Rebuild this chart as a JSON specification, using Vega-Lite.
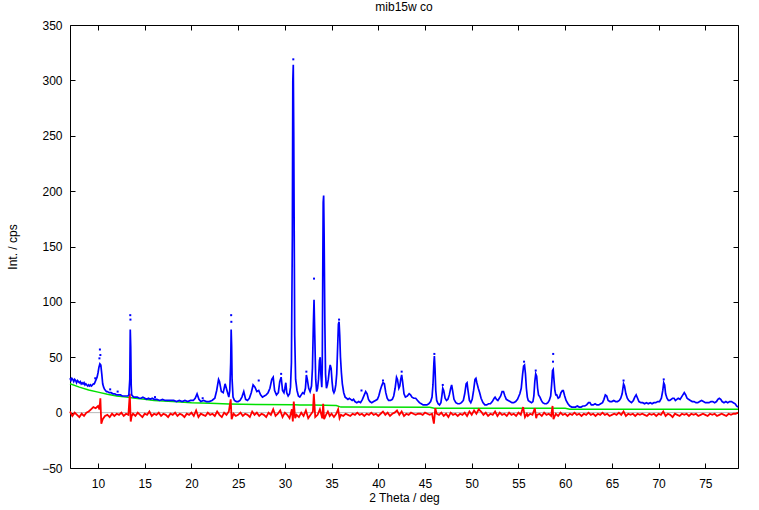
{
"$schema":"https://vega.github.io/schema/vega-lite/v6.json",
"width":668,"height":443,
"autosize":{"type":"none"},
"padding":{"left":70,"top":25,"right":21,"bottom":42},
"background":"white",
"title":{"text":"mib15w co","fontSize":12,"fontWeight":"normal","font":"Liberation Sans Narrow, Liberation Sans, Arial","color":"black","offset":5},
"config":{
 "view":{"stroke":"black","strokeWidth":1},
 "axis":{"grid":false,"domainColor":"black","tickColor":"black","labelColor":"black","titleColor":"black","labelFont":"Liberation Sans Narrow, Liberation Sans, Arial","titleFont":"Liberation Sans Narrow, Liberation Sans, Arial","labelFontSize":12,"titleFontSize":12,"titleFontWeight":"normal","tickSize":-5,"domain":false}
},
"datasets":{
"bg":[{"x":7,"y":26},{"x":8,"y":23},{"x":9,"y":20.5},{"x":10,"y":18.5},{"x":11,"y":16.5},{"x":12,"y":15},{"x":13,"y":14},{"x":14,"y":13},{"x":15,"y":12},{"x":16,"y":11},{"x":17,"y":10.5},{"x":18,"y":10},{"x":20,"y":9},{"x":22,"y":8.5},{"x":24,"y":7.8},{"x":27,"y":7.3},{"x":31,"y":7},{"x":31.6,"y":6.9},{"x":33,"y":6.8},{"x":35.5,"y":6.5},{"x":36,"y":5},{"x":45.5,"y":4.8},{"x":46,"y":4},{"x":60,"y":3.9},{"x":60.5,"y":3},{"x":78.5,"y":3}],
"zero":[{"x":7,"y":0},{"x":78.5,"y":0}],
"obs":[{"x":7.0,"y":31},{"x":7.1,"y":29},{"x":7.2,"y":31},{"x":7.3,"y":30},{"x":7.4,"y":28},{"x":7.5,"y":30},{"x":7.6,"y":29},{"x":7.7,"y":27},{"x":7.8,"y":29},{"x":7.9,"y":28},{"x":8.0,"y":27},{"x":8.1,"y":28},{"x":8.2,"y":26},{"x":8.3,"y":27},{"x":8.4,"y":26},{"x":8.5,"y":27},{"x":8.6,"y":25},{"x":8.7,"y":26},{"x":8.8,"y":25},{"x":8.9,"y":24},{"x":9.0,"y":25},{"x":9.1,"y":24},{"x":9.2,"y":25},{"x":9.3,"y":24},{"x":9.4,"y":25},{"x":9.5,"y":26},{"x":9.6,"y":26},{"x":9.7,"y":28},{"x":9.8,"y":30},{"x":9.9,"y":32},{"x":10.0,"y":36},{"x":10.1,"y":41},{"x":10.2,"y":44},{"x":10.3,"y":43},{"x":10.4,"y":35},{"x":10.5,"y":26},{"x":10.6,"y":23},{"x":10.7,"y":21},{"x":10.8,"y":20},{"x":10.9,"y":19},{"x":11.0,"y":19},{"x":11.2,"y":18},{"x":11.4,"y":18},{"x":11.6,"y":17},{"x":11.8,"y":17},{"x":12.0,"y":16},{"x":12.2,"y":16},{"x":12.4,"y":16},{"x":12.6,"y":15},{"x":12.8,"y":15},{"x":13.0,"y":15},{"x":13.2,"y":15},{"x":13.3,"y":16},{"x":13.4,"y":30},{"x":13.45,"y":75},{"x":13.5,"y":60},{"x":13.55,"y":25},{"x":13.6,"y":16},{"x":13.8,"y":14},{"x":14.0,"y":14},{"x":14.2,"y":14},{"x":14.4,"y":13},{"x":14.6,"y":13},{"x":14.8,"y":14},{"x":15.0,"y":13},{"x":15.2,"y":12},{"x":15.4,"y":13},{"x":15.6,"y":12},{"x":15.8,"y":13},{"x":16.0,"y":12},{"x":16.3,"y":12},{"x":16.6,"y":11},{"x":16.9,"y":12},{"x":17.2,"y":11},{"x":17.5,"y":11},{"x":17.8,"y":11},{"x":18.1,"y":11},{"x":18.4,"y":10},{"x":18.7,"y":11},{"x":19.0,"y":10},{"x":19.3,"y":11},{"x":19.6,"y":10},{"x":19.9,"y":11},{"x":20.2,"y":11},{"x":20.4,"y":13},{"x":20.6,"y":17},{"x":20.8,"y":12},{"x":21.0,"y":10},{"x":21.3,"y":11},{"x":21.6,"y":10},{"x":21.9,"y":10},{"x":22.2,"y":11},{"x":22.5,"y":13},{"x":22.7,"y":20},{"x":22.9,"y":30},{"x":23.0,"y":28},{"x":23.2,"y":19},{"x":23.4,"y":18},{"x":23.6,"y":26},{"x":23.8,"y":20},{"x":24.0,"y":14},{"x":24.1,"y":20},{"x":24.2,"y":45},{"x":24.25,"y":75},{"x":24.3,"y":60},{"x":24.35,"y":30},{"x":24.45,"y":14},{"x":24.6,"y":11},{"x":24.8,"y":10},{"x":25.0,"y":10},{"x":25.2,"y":11},{"x":25.4,"y":14},{"x":25.6,"y":19},{"x":25.8,"y":12},{"x":26.0,"y":11},{"x":26.2,"y":13},{"x":26.4,"y":18},{"x":26.6,"y":25},{"x":26.8,"y":23},{"x":27.0,"y":19},{"x":27.2,"y":20},{"x":27.4,"y":16},{"x":27.6,"y":14},{"x":27.8,"y":15},{"x":28.0,"y":16},{"x":28.2,"y":18},{"x":28.4,"y":22},{"x":28.6,"y":30},{"x":28.75,"y":32},{"x":28.9,"y":20},{"x":29.1,"y":16},{"x":29.3,"y":18},{"x":29.45,"y":28},{"x":29.6,"y":32},{"x":29.75,"y":20},{"x":29.9,"y":18},{"x":30.0,"y":22},{"x":30.1,"y":27},{"x":30.2,"y":18},{"x":30.35,"y":15},{"x":30.5,"y":17},{"x":30.6,"y":23},{"x":30.7,"y":45},{"x":30.8,"y":160},{"x":30.85,"y":300},{"x":30.9,"y":314},{"x":30.95,"y":250},{"x":31.0,"y":160},{"x":31.05,"y":70},{"x":31.15,"y":30},{"x":31.3,"y":20},{"x":31.45,"y":15},{"x":31.6,"y":14},{"x":31.75,"y":16},{"x":31.9,"y":18},{"x":32.05,"y":17},{"x":32.2,"y":22},{"x":32.3,"y":34},{"x":32.4,"y":30},{"x":32.55,"y":22},{"x":32.7,"y":19},{"x":32.85,"y":24},{"x":32.95,"y":40},{"x":33.05,"y":80},{"x":33.12,"y":102},{"x":33.2,"y":70},{"x":33.3,"y":30},{"x":33.4,"y":19},{"x":33.5,"y":22},{"x":33.6,"y":30},{"x":33.7,"y":47},{"x":33.78,"y":50},{"x":33.85,"y":35},{"x":33.95,"y":23},{"x":34.0,"y":40},{"x":34.05,"y":120},{"x":34.1,"y":190},{"x":34.15,"y":196},{"x":34.2,"y":160},{"x":34.28,"y":80},{"x":34.35,"y":35},{"x":34.45,"y":22},{"x":34.55,"y":25},{"x":34.65,"y":30},{"x":34.75,"y":38},{"x":34.85,"y":43},{"x":34.95,"y":40},{"x":35.05,"y":28},{"x":35.15,"y":20},{"x":35.25,"y":18},{"x":35.35,"y":20},{"x":35.45,"y":25},{"x":35.55,"y":35},{"x":35.65,"y":60},{"x":35.73,"y":80},{"x":35.8,"y":82},{"x":35.87,"y":70},{"x":35.95,"y":50},{"x":36.05,"y":36},{"x":36.15,"y":26},{"x":36.3,"y":18},{"x":36.45,"y":14},{"x":36.6,"y":13},{"x":36.75,"y":12},{"x":36.9,"y":13},{"x":37.05,"y":12},{"x":37.2,"y":11},{"x":37.35,"y":12},{"x":37.5,"y":10},{"x":37.7,"y":9},{"x":37.9,"y":10},{"x":38.1,"y":9},{"x":38.3,"y":12},{"x":38.5,"y":16},{"x":38.65,"y":19},{"x":38.8,"y":17},{"x":38.95,"y":12},{"x":39.1,"y":10},{"x":39.3,"y":9},{"x":39.5,"y":10},{"x":39.7,"y":11},{"x":39.9,"y":12},{"x":40.05,"y":15},{"x":40.2,"y":20},{"x":40.35,"y":24},{"x":40.5,"y":27},{"x":40.65,"y":26},{"x":40.8,"y":18},{"x":40.95,"y":13},{"x":41.1,"y":11},{"x":41.3,"y":11},{"x":41.5,"y":12},{"x":41.65,"y":15},{"x":41.8,"y":22},{"x":41.95,"y":32},{"x":42.05,"y":30},{"x":42.2,"y":22},{"x":42.3,"y":24},{"x":42.4,"y":30},{"x":42.5,"y":34},{"x":42.6,"y":28},{"x":42.75,"y":17},{"x":42.9,"y":14},{"x":43.1,"y":15},{"x":43.3,"y":17},{"x":43.45,"y":16},{"x":43.6,"y":14},{"x":43.8,"y":13},{"x":44.0,"y":13},{"x":44.2,"y":11},{"x":44.4,"y":9},{"x":44.6,"y":8},{"x":44.8,"y":7},{"x":45.0,"y":7},{"x":45.2,"y":7},{"x":45.4,"y":8},{"x":45.6,"y":10},{"x":45.75,"y":14},{"x":45.85,"y":25},{"x":45.95,"y":45},{"x":46.0,"y":51},{"x":46.07,"y":40},{"x":46.15,"y":20},{"x":46.25,"y":11},{"x":46.4,"y":8},{"x":46.55,"y":7},{"x":46.7,"y":9},{"x":46.8,"y":15},{"x":46.9,"y":22},{"x":47.0,"y":20},{"x":47.15,"y":13},{"x":47.3,"y":11},{"x":47.45,"y":12},{"x":47.6,"y":16},{"x":47.75,"y":22},{"x":47.85,"y":25},{"x":47.95,"y":20},{"x":48.1,"y":12},{"x":48.3,"y":9},{"x":48.5,"y":8},{"x":48.7,"y":8},{"x":48.9,"y":9},{"x":49.1,"y":11},{"x":49.25,"y":17},{"x":49.4,"y":26},{"x":49.5,"y":27},{"x":49.6,"y":20},{"x":49.75,"y":11},{"x":49.9,"y":9},{"x":50.05,"y":12},{"x":50.2,"y":20},{"x":50.35,"y":30},{"x":50.45,"y":31},{"x":50.55,"y":27},{"x":50.7,"y":22},{"x":50.85,"y":18},{"x":51.0,"y":13},{"x":51.2,"y":9},{"x":51.4,"y":7},{"x":51.6,"y":7},{"x":51.8,"y":8},{"x":52.0,"y":8},{"x":52.2,"y":10},{"x":52.4,"y":13},{"x":52.5,"y":14},{"x":52.65,"y":12},{"x":52.8,"y":11},{"x":52.95,"y":13},{"x":53.1,"y":15},{"x":53.25,"y":19},{"x":53.4,"y":19},{"x":53.55,"y":15},{"x":53.7,"y":12},{"x":53.9,"y":11},{"x":54.1,"y":10},{"x":54.3,"y":9},{"x":54.5,"y":9},{"x":54.7,"y":10},{"x":54.9,"y":12},{"x":55.05,"y":15},{"x":55.15,"y":17},{"x":55.3,"y":22},{"x":55.45,"y":35},{"x":55.55,"y":42},{"x":55.65,"y":43},{"x":55.75,"y":35},{"x":55.85,"y":22},{"x":55.95,"y":14},{"x":56.05,"y":11},{"x":56.2,"y":10},{"x":56.4,"y":9},{"x":56.55,"y":10},{"x":56.65,"y":15},{"x":56.75,"y":28},{"x":56.85,"y":35},{"x":56.95,"y":33},{"x":57.05,"y":22},{"x":57.15,"y":16},{"x":57.3,"y":14},{"x":57.45,"y":11},{"x":57.6,"y":9},{"x":57.8,"y":8},{"x":58.0,"y":8},{"x":58.15,"y":9},{"x":58.3,"y":11},{"x":58.45,"y":15},{"x":58.55,"y":25},{"x":58.65,"y":38},{"x":58.72,"y":39},{"x":58.8,"y":30},{"x":58.9,"y":20},{"x":59.0,"y":16},{"x":59.1,"y":16},{"x":59.25,"y":13},{"x":59.4,"y":14},{"x":59.55,"y":18},{"x":59.7,"y":20},{"x":59.8,"y":20},{"x":59.95,"y":15},{"x":60.1,"y":11},{"x":60.3,"y":8},{"x":60.5,"y":6},{"x":60.7,"y":5},{"x":60.9,"y":5},{"x":61.1,"y":5},{"x":61.3,"y":6},{"x":61.5,"y":5},{"x":61.7,"y":5},{"x":61.9,"y":6},{"x":62.1,"y":6},{"x":62.3,"y":7},{"x":62.5,"y":9},{"x":62.65,"y":9},{"x":62.8,"y":7},{"x":63.0,"y":7},{"x":63.2,"y":8},{"x":63.4,"y":7},{"x":63.6,"y":7},{"x":63.8,"y":8},{"x":64.0,"y":9},{"x":64.15,"y":12},{"x":64.3,"y":16},{"x":64.45,"y":15},{"x":64.6,"y":11},{"x":64.8,"y":10},{"x":65.0,"y":10},{"x":65.2,"y":11},{"x":65.4,"y":10},{"x":65.6,"y":10},{"x":65.8,"y":11},{"x":65.95,"y":13},{"x":66.1,"y":17},{"x":66.25,"y":26},{"x":66.35,"y":24},{"x":66.5,"y":17},{"x":66.65,"y":13},{"x":66.8,"y":11},{"x":66.95,"y":10},{"x":67.1,"y":9},{"x":67.3,"y":11},{"x":67.45,"y":14},{"x":67.6,"y":16},{"x":67.75,"y":13},{"x":67.9,"y":10},{"x":68.1,"y":9},{"x":68.3,"y":9},{"x":68.5,"y":8},{"x":68.7,"y":9},{"x":68.9,"y":8},{"x":69.1,"y":9},{"x":69.3,"y":8},{"x":69.5,"y":9},{"x":69.7,"y":9},{"x":69.9,"y":10},{"x":70.1,"y":10},{"x":70.3,"y":13},{"x":70.45,"y":20},{"x":70.55,"y":27},{"x":70.65,"y":25},{"x":70.75,"y":17},{"x":70.9,"y":13},{"x":71.05,"y":11},{"x":71.2,"y":11},{"x":71.35,"y":12},{"x":71.5,"y":13},{"x":71.65,"y":13},{"x":71.8,"y":11},{"x":71.95,"y":12},{"x":72.1,"y":13},{"x":72.3,"y":12},{"x":72.45,"y":14},{"x":72.6,"y":16},{"x":72.75,"y":18},{"x":72.9,"y":16},{"x":73.05,"y":13},{"x":73.2,"y":12},{"x":73.4,"y":11},{"x":73.6,"y":10},{"x":73.8,"y":10},{"x":74.0,"y":9},{"x":74.2,"y":9},{"x":74.4,"y":10},{"x":74.6,"y":11},{"x":74.8,"y":10},{"x":75.0,"y":9},{"x":75.2,"y":9},{"x":75.4,"y":9},{"x":75.6,"y":10},{"x":75.8,"y":10},{"x":76.0,"y":9},{"x":76.2,"y":10},{"x":76.35,"y":12},{"x":76.5,"y":13},{"x":76.65,"y":12},{"x":76.8,"y":10},{"x":77.0,"y":9},{"x":77.2,"y":10},{"x":77.4,"y":9},{"x":77.6,"y":10},{"x":77.8,"y":10},{"x":78.0,"y":9},{"x":78.2,"y":8},{"x":78.35,"y":6},{"x":78.5,"y":5}],
"pts":[{"x":10.2,"y":57},{"x":10.25,"y":52},{"x":10.15,"y":49},{"x":13.45,"y":88},{"x":13.47,"y":84},{"x":24.25,"y":88},{"x":24.27,"y":82},{"x":27.2,"y":29},{"x":30.9,"y":319},{"x":33.12,"y":121},{"x":35.8,"y":84},{"x":38.2,"y":20},{"x":46.0,"y":53},{"x":46.9,"y":25},{"x":58.72,"y":53},{"x":58.7,"y":46},{"x":66.25,"y":29},{"x":70.55,"y":30},{"x":9.7,"y":31},{"x":11.3,"y":21},{"x":12.1,"y":19},{"x":16.1,"y":14},{"x":21.2,"y":13},{"x":29.6,"y":35},{"x":32.3,"y":37},{"x":40.5,"y":29},{"x":42.5,"y":37},{"x":55.6,"y":46},{"x":56.85,"y":38}],
"diff":[{"x":7.0,"y":1},{"x":7.25,"y":-3},{"x":7.5,"y":0},{"x":7.75,"y":-2},{"x":8.0,"y":-4},{"x":8.25,"y":-1},{"x":8.5,"y":-3},{"x":8.75,"y":0},{"x":9.0,"y":1},{"x":9.25,"y":3},{"x":9.5,"y":5},{"x":9.75,"y":4},{"x":10.0,"y":6},{"x":10.15,"y":3},{"x":10.25,"y":13},{"x":10.35,"y":-10},{"x":10.5,"y":-6},{"x":10.75,"y":-3},{"x":11.0,"y":-2},{"x":11.25,"y":-4},{"x":11.5,"y":-1},{"x":11.75,"y":-3},{"x":12.0,"y":-1},{"x":12.25,"y":-2},{"x":12.5,"y":0},{"x":12.75,"y":-3},{"x":13.0,"y":-1},{"x":13.25,"y":-2},{"x":13.4,"y":17},{"x":13.5,"y":-8},{"x":13.6,"y":-3},{"x":13.75,"y":-1},{"x":14.0,"y":-3},{"x":14.25,"y":0},{"x":14.5,"y":-2},{"x":14.75,"y":-4},{"x":15.0,"y":-1},{"x":15.25,"y":-2},{"x":15.5,"y":1},{"x":15.75,"y":-3},{"x":16.0,"y":-1},{"x":16.25,"y":-2},{"x":16.5,"y":0},{"x":16.75,"y":-3},{"x":17.0,"y":-1},{"x":17.25,"y":-2},{"x":17.5,"y":-4},{"x":17.75,"y":-1},{"x":18.0,"y":-2},{"x":18.25,"y":0},{"x":18.5,"y":-3},{"x":18.75,"y":-1},{"x":19.0,"y":-2},{"x":19.25,"y":-4},{"x":19.5,"y":-1},{"x":19.75,"y":-2},{"x":20.0,"y":0},{"x":20.25,"y":-3},{"x":20.5,"y":2},{"x":20.75,"y":-4},{"x":21.0,"y":-1},{"x":21.25,"y":-2},{"x":21.5,"y":-3},{"x":21.75,"y":0},{"x":22.0,"y":-2},{"x":22.25,"y":-1},{"x":22.5,"y":-3},{"x":22.75,"y":1},{"x":23.0,"y":-2},{"x":23.25,"y":-4},{"x":23.5,"y":0},{"x":23.75,"y":-2},{"x":24.0,"y":1},{"x":24.2,"y":12},{"x":24.3,"y":-6},{"x":24.5,"y":-1},{"x":24.75,"y":-3},{"x":25.0,"y":-2},{"x":25.25,"y":0},{"x":25.5,"y":-3},{"x":25.75,"y":-1},{"x":26.0,"y":-2},{"x":26.25,"y":-4},{"x":26.5,"y":1},{"x":26.75,"y":-2},{"x":27.0,"y":0},{"x":27.25,"y":-3},{"x":27.5,"y":-1},{"x":27.75,"y":-2},{"x":28.0,"y":-4},{"x":28.25,"y":0},{"x":28.5,"y":-2},{"x":28.75,"y":3},{"x":29.0,"y":-3},{"x":29.25,"y":-1},{"x":29.5,"y":2},{"x":29.75,"y":-4},{"x":30.0,"y":0},{"x":30.25,"y":-2},{"x":30.5,"y":-5},{"x":30.75,"y":3},{"x":30.85,"y":-8},{"x":30.95,"y":10},{"x":31.1,"y":-5},{"x":31.25,"y":-2},{"x":31.5,"y":-4},{"x":31.75,"y":0},{"x":32.0,"y":-3},{"x":32.25,"y":2},{"x":32.5,"y":-5},{"x":32.75,"y":-2},{"x":33.0,"y":1},{"x":33.1,"y":17},{"x":33.25,"y":-4},{"x":33.5,"y":-2},{"x":33.75,"y":3},{"x":34.0,"y":-5},{"x":34.1,"y":8},{"x":34.2,"y":-6},{"x":34.4,"y":-2},{"x":34.6,"y":1},{"x":34.8,"y":-3},{"x":35.0,"y":-1},{"x":35.25,"y":-4},{"x":35.5,"y":-1},{"x":35.7,"y":3},{"x":35.85,"y":-5},{"x":36.0,"y":-2},{"x":36.25,"y":-3},{"x":36.5,"y":-1},{"x":36.75,"y":-2},{"x":37.0,"y":-3},{"x":37.25,"y":-1},{"x":37.5,"y":-2},{"x":37.75,"y":0},{"x":38.0,"y":-2},{"x":38.25,"y":-1},{"x":38.5,"y":-3},{"x":38.75,"y":-1},{"x":39.0,"y":-2},{"x":39.25,"y":0},{"x":39.5,"y":-2},{"x":39.75,"y":-1},{"x":40.0,"y":-3},{"x":40.25,"y":-1},{"x":40.5,"y":1},{"x":40.75,"y":-2},{"x":41.0,"y":0},{"x":41.25,"y":-3},{"x":41.5,"y":-1},{"x":41.75,"y":0},{"x":42.0,"y":2},{"x":42.25,"y":-2},{"x":42.5,"y":1},{"x":42.75,"y":-3},{"x":43.0,"y":-1},{"x":43.25,"y":-2},{"x":43.5,"y":0},{"x":43.75,"y":-1},{"x":44.0,"y":-2},{"x":44.25,"y":-1},{"x":44.5,"y":-1},{"x":44.75,"y":-2},{"x":45.0,"y":0},{"x":45.25,"y":-1},{"x":45.5,"y":-2},{"x":45.75,"y":-1},{"x":45.95,"y":-10},{"x":46.1,"y":4},{"x":46.25,"y":-1},{"x":46.5,"y":-2},{"x":46.75,"y":0},{"x":47.0,"y":-3},{"x":47.25,"y":-1},{"x":47.5,"y":-4},{"x":47.75,"y":0},{"x":48.0,"y":-2},{"x":48.25,"y":-1},{"x":48.5,"y":-3},{"x":48.75,"y":-1},{"x":49.0,"y":-2},{"x":49.25,"y":0},{"x":49.5,"y":-3},{"x":49.75,"y":1},{"x":50.0,"y":-2},{"x":50.25,"y":2},{"x":50.5,"y":-1},{"x":50.75,"y":3},{"x":51.0,"y":1},{"x":51.25,"y":-2},{"x":51.5,"y":0},{"x":51.75,"y":-3},{"x":52.0,"y":-1},{"x":52.25,"y":-2},{"x":52.5,"y":1},{"x":52.75,"y":-3},{"x":53.0,"y":0},{"x":53.25,"y":-2},{"x":53.5,"y":-1},{"x":53.75,"y":-3},{"x":54.0,"y":0},{"x":54.25,"y":-2},{"x":54.5,"y":-1},{"x":54.75,"y":-3},{"x":55.0,"y":0},{"x":55.25,"y":-2},{"x":55.5,"y":5},{"x":55.7,"y":-4},{"x":55.9,"y":-1},{"x":56.0,"y":-3},{"x":56.25,"y":-1},{"x":56.5,"y":-2},{"x":56.75,"y":4},{"x":56.9,"y":-5},{"x":57.0,"y":-2},{"x":57.25,"y":-1},{"x":57.5,"y":-3},{"x":57.75,"y":0},{"x":58.0,"y":-2},{"x":58.25,"y":-1},{"x":58.5,"y":-3},{"x":58.65,"y":6},{"x":58.75,"y":-6},{"x":59.0,"y":-1},{"x":59.25,"y":-3},{"x":59.5,"y":0},{"x":59.75,"y":-2},{"x":60.0,"y":-1},{"x":60.25,"y":-3},{"x":60.5,"y":-1},{"x":60.75,"y":-2},{"x":61.0,"y":0},{"x":61.25,"y":-2},{"x":61.5,"y":-1},{"x":61.75,"y":-3},{"x":62.0,"y":-1},{"x":62.25,"y":-2},{"x":62.5,"y":0},{"x":62.75,"y":-2},{"x":63.0,"y":-1},{"x":63.25,"y":-3},{"x":63.5,"y":-1},{"x":63.75,"y":-2},{"x":64.0,"y":0},{"x":64.25,"y":-2},{"x":64.5,"y":-1},{"x":64.75,"y":-3},{"x":65.0,"y":-2},{"x":65.25,"y":-1},{"x":65.5,"y":-2},{"x":65.75,"y":0},{"x":66.0,"y":-2},{"x":66.25,"y":1},{"x":66.5,"y":-3},{"x":66.75,"y":-1},{"x":67.0,"y":-2},{"x":67.25,"y":-1},{"x":67.5,"y":-3},{"x":67.75,"y":-1},{"x":68.0,"y":-2},{"x":68.25,"y":-1},{"x":68.5,"y":-2},{"x":68.75,"y":-3},{"x":69.0,"y":-1},{"x":69.25,"y":-2},{"x":69.5,"y":-1},{"x":69.75,"y":-3},{"x":70.0,"y":-1},{"x":70.25,"y":-2},{"x":70.5,"y":1},{"x":70.75,"y":-3},{"x":71.0,"y":-1},{"x":71.25,"y":-2},{"x":71.5,"y":-4},{"x":71.75,"y":-1},{"x":72.0,"y":-2},{"x":72.25,"y":-3},{"x":72.5,"y":-1},{"x":72.75,"y":-2},{"x":73.0,"y":-1},{"x":73.25,"y":-3},{"x":73.5,"y":-1},{"x":73.75,"y":-2},{"x":74.0,"y":-1},{"x":74.25,"y":-3},{"x":74.5,"y":-2},{"x":74.75,"y":-1},{"x":75.0,"y":-2},{"x":75.25,"y":-3},{"x":75.5,"y":-1},{"x":75.75,"y":-2},{"x":76.0,"y":-1},{"x":76.25,"y":-3},{"x":76.5,"y":-2},{"x":76.75,"y":-1},{"x":77.0,"y":-2},{"x":77.25,"y":-3},{"x":77.5,"y":-1},{"x":77.75,"y":-2},{"x":78.0,"y":-1},{"x":78.25,"y":-1},{"x":78.5,"y":0}]
},
"resolve":{"axis":{"x":"independent","y":"independent"}},
"layer":[
{"data":{"name":"bg"},"mark":{"type":"line","color":"#00e000","strokeWidth":1.5,"interpolate":"linear"},
 "encoding":{
  "x":{"field":"x","type":"quantitative","scale":{"domain":[7,78.5],"nice":false,"zero":false},"axis":{"values":[10,15,20,25,30,35,40,45,50,55,60,65,70,75],"title":"2 Theta / deg","labelPadding":15,"titlePadding":3}},
  "y":{"field":"y","type":"quantitative","scale":{"domain":[-50,350],"nice":false,"zero":false},"axis":{"values":[-50,0,50,100,150,200,250,300,350],"title":"Int. / cps","labelPadding":13,"titlePadding":22}}}},
{"data":{"name":"zero"},"mark":{"type":"line","color":"#b8b8b8","strokeWidth":1},
 "encoding":{
  "x":{"field":"x","type":"quantitative","axis":{"orient":"top","values":[10,15,20,25,30,35,40,45,50,55,60,65,70,75],"labels":false,"title":null}},
  "y":{"field":"y","type":"quantitative","axis":{"orient":"right","values":[-50,0,50,100,150,200,250,300,350],"labels":false,"title":null}}}},
{"data":{"name":"diff"},"mark":{"type":"line","color":"#ff0000","strokeWidth":1.8},
 "encoding":{"x":{"field":"x","type":"quantitative","axis":null},"y":{"field":"y","type":"quantitative","axis":null}}},
{"data":{"name":"obs"},"mark":{"type":"line","color":"#0000ff","strokeWidth":1.7},
 "encoding":{"x":{"field":"x","type":"quantitative","axis":null},"y":{"field":"y","type":"quantitative","axis":null}}},
{"data":{"name":"pts"},"mark":{"type":"square","color":"#0000ff","size":4,"opacity":1,"filled":true},
 "encoding":{"x":{"field":"x","type":"quantitative","axis":null},"y":{"field":"y","type":"quantitative","axis":null}}}
]
}
